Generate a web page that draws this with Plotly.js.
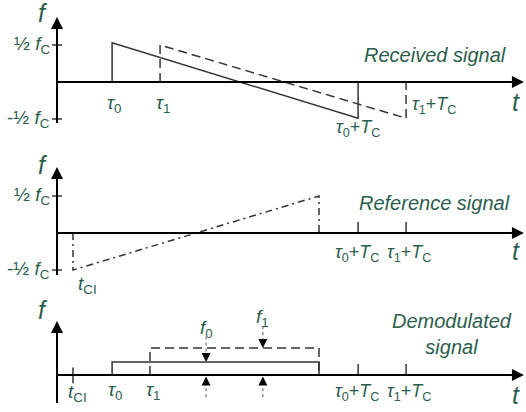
<!DOCTYPE html>
<html><head><meta charset="utf-8">
<script src="https://cdn.plot.ly/plotly-3.0.1.min.js"></script>
<style>html,body{margin:0;padding:0;background:#fff}</style>
</head><body><div id="chart" style="width:526px;height:412px"></div>
<script>
// ---------- data (time in units of Tc, frequency in units of fC) ----------
const Tc = 1.0;
// Received signal: two echoes delayed by tau0 and tau1
const recvTau = [0.224, 0.419];          // τ0, τ1
const recvStartF = [0.53, 0.50];         // frequency at start of chirp
const recvEndF = [-0.49, -0.49];         // frequency at end of chirp
// Reference signal
const tCI = 0.065;
const refF = [-0.5, 0.5];                // start / end frequency
// Demodulated signal
const demodTau = [0.224, 0.378];         // τ0, τ1 as drawn in lower panel
const demodF = [0.176, 0.365];           // f0, f1 beat frequencies
const beatArrowT = [0.606, 0.837];       // where f0, f1 are marked
const halfF = [0.5, -0.5];               // ± ½ fC ticks
const yTickLabels = ['½ <i>f</i><sub>C</sub>', '-½ <i>f</i><sub>C</sub>'];
const tauLabels = ['<i>τ</i><sub>0</sub>', '<i>τ</i><sub>1</sub>'];
const tauTcLabels = ['<i>τ</i><sub>0</sub>+<i>T</i><sub>C</sub>', '<i>τ</i><sub>1</sub>+<i>T</i><sub>C</sub>'];
const panelTitles = ['Received signal', 'Reference signal', 'Demodulated<br>signal'];

// ---------- styles ----------
const GREEN = '#2b5e4d';
const SIG = '#333333';
const FONT = 'Liberation Sans, Arial, sans-serif';
const axTop = [0.878, 0.892, 0.73];
const axBot = [-0.554, -0.568, -0.378];
const xEnd = 1.898;
const tickHalf = 0.02;
const tickUp = 0.15;

const traces = [];
function line(xs, ys, ya, opt) {
  opt = opt || {};
  traces.push({x: xs, y: ys, yaxis: ya, xaxis: 'x', mode: 'lines', hoverinfo: 'skip',
    line: {color: opt.color || SIG, width: opt.width || 1.5, dash: opt.dash || 'solid'}, showlegend: false});
}
const ann = [];
function label(text, x, y, ya, opt) {
  opt = opt || {};
  ann.push({text: text, x: x, y: y, xref: 'x', yref: ya, showarrow: false,
    xanchor: opt.xanchor || 'center', yanchor: opt.yanchor || 'middle', align: opt.align || 'center',
    font: {family: FONT, size: opt.size || 19, color: GREEN}});
}
function arrowAxis(x, y, ax, ay, ya) {
  ann.push({x: x, y: y, ax: ax, ay: ay, xref: 'x', yref: ya, axref: 'x', ayref: ya, text: '',
    showarrow: true, arrowhead: 2, arrowsize: 1.2, arrowwidth: 2, arrowcolor: '#000', standoff: 0});
}
function smallArrow(x, y, ya, dir) {
  ann.push({x: x, y: y, ax: 0, ay: dir * 9, xref: 'x', yref: ya, text: '',
    showarrow: true, arrowhead: 2, arrowsize: 1.8, arrowwidth: 1, arrowcolor: '#000', standoff: 0});
}

const yas = ['y', 'y2', 'y3'];
// axes for all panels
yas.forEach((ya, i) => {
  line([0, 0], [axBot[i], axTop[i] - 0.05], ya, {color: '#000', width: 2});
  line([0, xEnd - 0.02], [0, 0], ya, {color: '#000', width: 2});
  arrowAxis(0, axTop[i], 0, axBot[i], ya);
  arrowAxis(xEnd, 0, 0, 0, ya);
  label('<i>f</i>', -0.055, [0.935, 0.92, 0.88][i], ya, {size: 25});
  label('<i>t</i>', 1.865, [-0.27, -0.24, -0.27][i], ya, {size: 25});
});

// ---- Panel 1 & 2: ±½ fC ticks ----
yas.slice(0, 2).forEach((ya) => {
  line([-tickHalf, tickHalf, null, -tickHalf, tickHalf], [halfF[0], halfF[0], null, halfF[1], halfF[1]], ya, {color: '#000', width: 1.2});
  yTickLabels.forEach((t, k) => label(t, -0.02, halfF[k], ya, {xanchor: 'right', size: 19}));
});
// ---- Panel 1: received signal ----
line([recvTau[0], recvTau[0], recvTau[0] + Tc, recvTau[0] + Tc], [0, recvStartF[0], recvEndF[0], 0], 'y');
line([recvTau[1], recvTau[1], recvTau[1] + Tc, recvTau[1] + Tc], [0, recvStartF[1], recvEndF[1], 0], 'y', {dash: '9px,5px'});
label(tauLabels[0], recvTau[0] + 0.01, -0.3, 'y');
label(tauLabels[1], recvTau[1] + 0.015, -0.3, 'y');
label(tauTcLabels[0], recvTau[0] + Tc, -0.63, 'y', {size: 18});
label(tauTcLabels[1], recvTau[1] + Tc + 0.115, -0.32, 'y', {size: 18});
label('<i>' + panelTitles[0] + '</i>', 1.835, 0.37, 'y', {xanchor: 'right', size: 20});

// ---- Panel 2: reference signal ----
line([tCI, tCI, tCI + Tc, tCI + Tc], [0, refF[0], refF[1], 0], 'y2', {dash: '7px,4px,2px,4px'});
[recvTau[0] + Tc, recvTau[1] + Tc].forEach(t => line([t, t], [0, tickUp], 'y2', {color: '#000', width: 1.2}));
label(tauTcLabels[0], recvTau[0] + Tc - 0.005, -0.27, 'y2', {size: 18});
label(tauTcLabels[1], recvTau[1] + Tc + 0.01, -0.27, 'y2', {size: 18});
label('<i>t</i><sub>CI</sub>', tCI + 0.06, -0.7, 'y2');
label('<i>' + panelTitles[1] + '</i>', 1.85, 0.4, 'y2', {xanchor: 'right', size: 20});

// ---- Panel 3: demodulated signal ----
const tEnd = tCI + Tc;
line([tCI, tCI], [-0.11, 0.1], 'y3', {color: '#000', width: 1.2});
[recvTau[0] + Tc, recvTau[1] + Tc].forEach(t => line([t, t], [0, tickUp], 'y3', {color: '#000', width: 1.2}));
line([demodTau[0], demodTau[0], tEnd, tEnd], [0, demodF[0], demodF[0], 0], 'y3');
line([demodTau[1], demodTau[1], tEnd, tEnd], [0, demodF[1], demodF[1], 0], 'y3', {dash: '9px,5px'});
// beat-frequency markers
line([beatArrowT[0], beatArrowT[0]], [0.52, demodF[0] + 0.08], 'y3', {dash: 'dot', width: 1, color: '#555'});
line([beatArrowT[1], beatArrowT[1]], [0.66, demodF[1] + 0.08], 'y3', {dash: 'dot', width: 1, color: '#555'});
beatArrowT.forEach(t => line([t, t], [-0.3, -0.1], 'y3', {dash: 'dot', width: 1, color: '#555'}));
smallArrow(beatArrowT[0], demodF[0], 'y3', -1);
smallArrow(beatArrowT[1], demodF[1], 'y3', -1);
beatArrowT.forEach(t => smallArrow(t, -0.02, 'y3', 1));
label('<i>f</i><sub>0</sub>', beatArrowT[0], 0.62, 'y3');
label('<i>f</i><sub>1</sub>', beatArrowT[1], 0.77, 'y3');
label('<i>t</i><sub>CI</sub>', tCI + 0.02, -0.24, 'y3');
label(tauLabels[0], demodTau[0] + 0.015, -0.22, 'y3');
label(tauLabels[1], demodTau[1] + 0.015, -0.22, 'y3');
label(tauTcLabels[0], recvTau[0] + Tc - 0.005, -0.24, 'y3', {size: 18});
label(tauTcLabels[1], recvTau[1] + Tc + 0.01, -0.24, 'y3', {size: 18});
label('<i>' + panelTitles[2] + '</i>', 1.605, 0.55, 'y3', {size: 20});

const layout = {
  width: 526, height: 412, margin: {l: 0, r: 0, t: 0, b: 0},
  paper_bgcolor: '#fff', plot_bgcolor: '#fff', showlegend: false,
  xaxis: {range: [-0.2317, 1.9065], visible: false, fixedrange: true},
  yaxis: {domain: [0.6602, 1], range: [-0.784, 1.108], visible: false, fixedrange: true},
  yaxis2: {domain: [0.2961, 0.6602], range: [-0.770, 1.257], visible: false, fixedrange: true},
  yaxis3: {domain: [0, 0.2961], range: [-0.5, 1.149], visible: false, fixedrange: true},
  annotations: ann
};
Plotly.newPlot('chart', traces, layout, {staticPlot: true, displayModeBar: false});
</script></body></html>
